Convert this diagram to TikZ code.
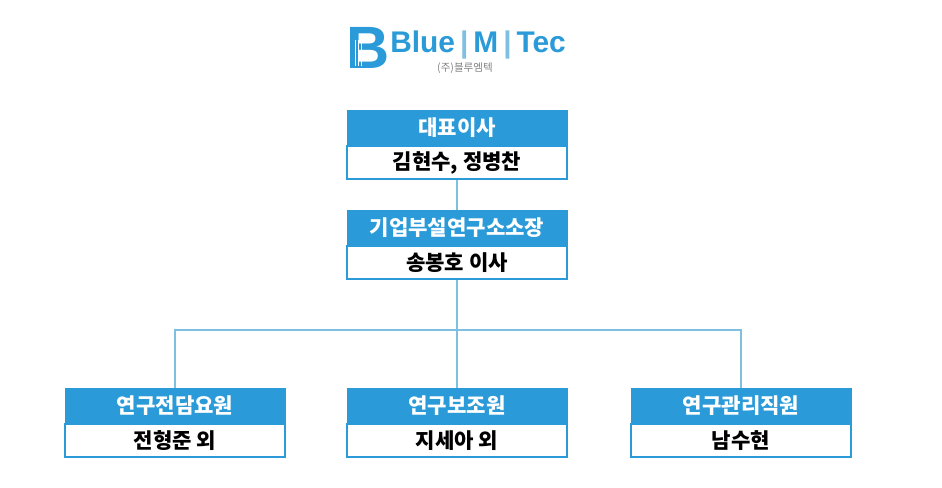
\documentclass[tikz,border=0pt]{standalone}
\usepackage{fontspec}
\setmainfont{Liberation Sans}
\newfontfamily\kor{Noto Sans CJK KR}
\usetikzlibrary{positioning}
\definecolor{bmblue}{HTML}{2A9AD8}
\definecolor{bmline}{HTML}{7FBFE0}
\tikzset{
  headbox/.style={fill=bmblue, draw=bmblue, text=white, minimum width=4.4cm, minimum height=0.7cm, inner sep=0pt, font=\kor\bfseries\fontsize{12}{14}\selectfont},
  namebox/.style={fill=white, draw=bmblue, line width=0.8pt, minimum width=4.4cm, minimum height=0.66cm, inner sep=0pt, font=\kor\bfseries\fontsize{12}{14}\selectfont},
  link/.style={draw=bmline, line width=0.6pt}
}
\begin{document}
\begin{tikzpicture}[x=0.02cm, y=-0.02cm]
  \useasboundingbox (0,0) rectangle (942,487);
  % logo
  \node[text=bmblue, font=\bfseries\fontsize{34}{34}\selectfont, inner sep=0pt] (logoB) at (368,48) {B};
  \foreach \x in {355,358,361}
    \draw[white, line width=0.5pt] (\x,40) -- (\x,66);
  \node[text=bmblue, font=\bfseries\fontsize{17}{17}\selectfont, inner sep=0pt, anchor=west] (logotxt) at (390,45) {Blue\,\textcolor{bmline}{\textbar}\,M\,\textcolor{bmline}{\textbar}\,Tec};
  \node[text=gray, font=\kor\fontsize{6}{6}\selectfont, inner sep=0pt] (logosub) at (465,68) {(주)블루엠텍};
  % boxes
  \node[headbox] (ceo) at (457,127.5) {대표이사};
  \node[namebox, below=0pt of ceo] (ceoname) {김현수, 정병찬};
  \node[headbox] (lab) at (457,227.5) {기업부설연구소소장};
  \node[namebox, below=0pt of lab] (labname) {송봉호 이사};
  \node[headbox] (res) at (175,405.5) {연구전담요원};
  \node[namebox, below=0pt of res] (resname) {전형준 외};
  \node[headbox] (ast) at (457,405.5) {연구보조원};
  \node[namebox, below=0pt of ast] (astname) {지세아 외};
  \node[headbox] (adm) at (741,405.5) {연구관리직원};
  \node[namebox, below=0pt of adm] (admname) {남수현};
  % connectors
  \coordinate (split) at (457,330);
  \draw[link] (ceoname) -- (lab);
  \draw[link] (labname) -- (split);
  \draw[link] (res.north) |- (split) -| (adm.north);
  \draw[link] (split) -- (ast);
\end{tikzpicture}
\end{document}
